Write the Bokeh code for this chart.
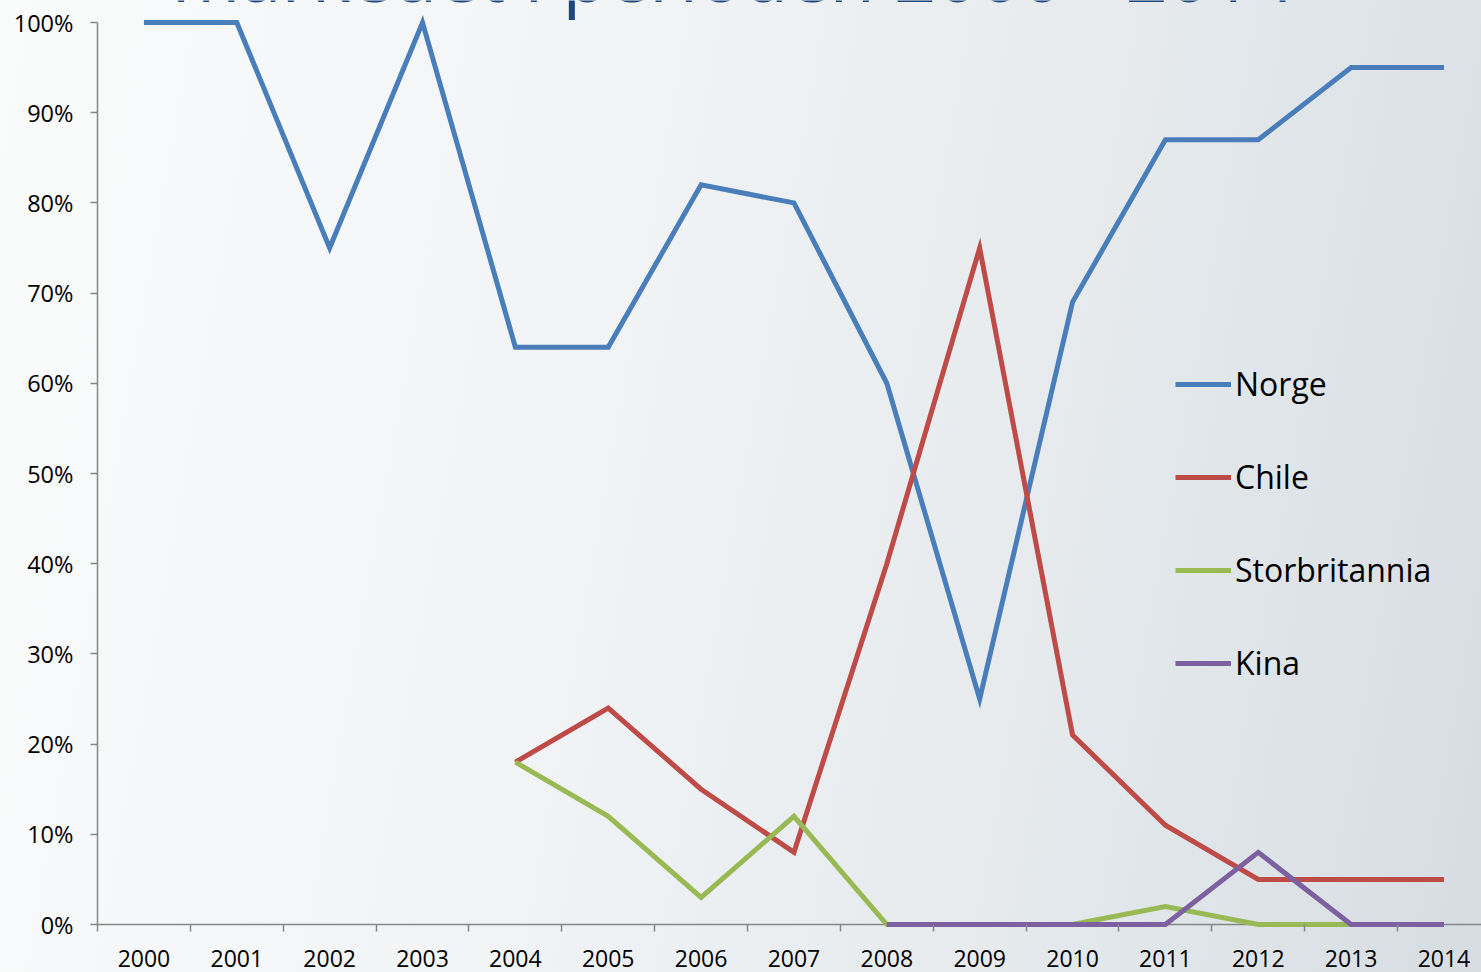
from math import nan
from bokeh.plotting import figure
from bokeh.models import (FixedTicker, PrintfTickFormatter, Legend, LegendItem,
                          Label, Range1d, Span)
from bokeh.embed import file_html
from bokeh.resources import INLINE

# ---------------- data ----------------
years = [2000, 2001, 2002, 2003, 2004, 2005, 2006, 2007,
         2008, 2009, 2010, 2011, 2012, 2013, 2014]
norge = [100, 100, 75, 100, 64, 64, 82, 80, 60, 25, 69, 87, 87, 95, 95]
chile = [nan, nan, nan, nan, 18, 24, 15, 8, 40, 75, 21, 11, 5, 5, 5]
storbritannia = [nan, nan, nan, nan, 18, 12, 3, 12, 0, 0, 0, 2, 0, 0, 0]
kina = [nan, nan, nan, nan, nan, nan, nan, nan, 0, 0, 0, 0, 8, 0, 0]
series_names = ["Norge", "Chile", "Storbritannia", "Kina"]
series_colors = ["#4a7ebb", "#be4b48", "#98b954", "#7d60a0"]
x_tick_labels = {y: str(y) for y in years}
y_ticks = [0, 10, 20, 30, 40, 50, 60, 70, 80, 90, 100]
title_text = "markedet i perioden 2000 - 2014"

FONT = "Open Sans"
AXIS_COLOR = "#868686"

p = figure(width=1481, height=972, output_backend="svg", toolbar_location=None,
           x_range=Range1d(1999.5, 2014.404), y_range=Range1d(-0.443, 102.44),
           min_border_left=97, min_border_right=0, min_border_top=0,
           min_border_bottom=44)

p.styles = {
    "background": "linear-gradient(100deg, #fafbfb 0%, #f1f3f5 40%, #e6eaed 70%, #d6dde2 100%)",
}
p.background_fill_color = None
p.border_fill_color = None
p.outline_line_color = None
p.xgrid.visible = False
p.ygrid.visible = False

# horizontal axis line at 0 %
zero_line = Span(location=0, dimension="width", line_color=AXIS_COLOR,
                 line_width=1.5, level="underlay")
p.add_layout(zero_line)

renderers = []
for vals, col in zip([norge, chile, storbritannia, kina], series_colors):
    r = p.line(years, vals, line_color=col, line_width=5, line_join="miter")
    renderers.append(r)

# x axis (ticks between categories)
xa = p.xaxis[0]
xa.ticker = FixedTicker(ticks=years, minor_ticks=[y - 0.5 for y in years] + [years[-1] + 0.5])
xa.major_label_overrides = x_tick_labels
xa.major_tick_out = 0
xa.major_tick_in = 0
xa.minor_tick_out = 3
xa.minor_tick_in = 4
xa.minor_tick_line_color = AXIS_COLOR
xa.minor_tick_line_width = 1.5
xa.axis_line_color = None
xa.major_label_text_font = FONT
xa.major_label_text_font_size = "23px"
xa.major_label_text_color = "#000000"
xa.major_label_standoff = 18

# y axis
ya = p.yaxis[0]
ya.ticker = FixedTicker(ticks=y_ticks, minor_ticks=[])
ya.formatter = PrintfTickFormatter(format="%d%%")
ya.bounds = (0, 100)
ya.major_tick_out = 7
ya.major_tick_in = 0
ya.minor_tick_out = 0
ya.minor_tick_in = 0
ya.major_tick_line_color = AXIS_COLOR
ya.major_tick_line_width = 1.5
ya.axis_line_color = AXIS_COLOR
ya.axis_line_width = 1.5
ya.major_label_text_font = FONT
ya.major_label_text_font_size = "23.5px"
ya.major_label_text_color = "#000000"
ya.major_label_standoff = 17

legend = Legend(
    items=[LegendItem(label=n, renderers=[r]) for n, r in zip(series_names, renderers)],
    location=(1078, 244), orientation="vertical",
    glyph_width=56, glyph_height=40, label_height=40, spacing=50,
    padding=0, margin=0, label_standoff=4,
    label_text_font=FONT, label_text_font_size="32px", label_text_color="#000000",
    background_fill_alpha=0, border_line_color=None,
)
p.add_layout(legend)

title = Label(x=2000.30, y=105.43, text=title_text, text_font=FONT,
              text_font_size="74px", text_color="#1f497d",
              text_baseline="alphabetic", text_align="left")
p.add_layout(title)

open("out.html", "w").write(file_html(p, INLINE))
